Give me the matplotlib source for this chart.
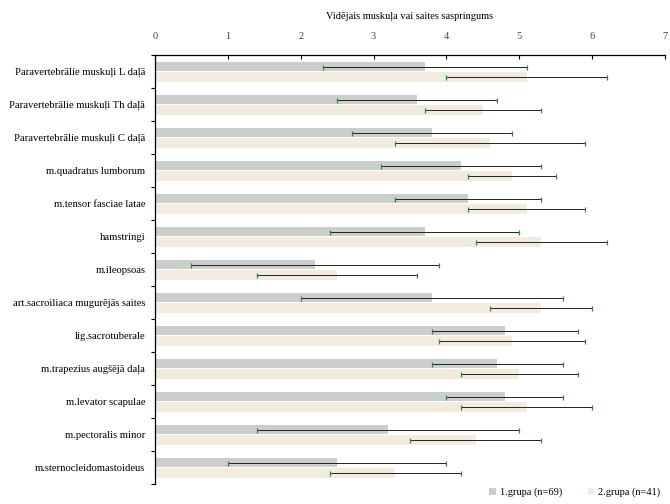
import matplotlib
matplotlib.use('Agg')
import matplotlib.pyplot as plt
import numpy as np

plt.rcParams['font.family'] = ['Liberation Serif', 'DejaVu Serif']

# Kategorijas (no augšas uz leju)
categories = [
    'Paravertebrālie muskuļi L daļā',
    'Paravertebrālie muskuļi Th daļā',
    'Paravertebrālie muskuļi C daļā',
    'm.quadratus lumborum',
    'm.tensor fasciae latae',
    'hamstringi',
    'm.ileopsoas',
    'art.sacroiliaca mugurējās saites',
    'lig.sacrotuberale',
    'm.trapezius augšējā daļa',
    'm.levator scapulae',
    'm.pectoralis minor',
    'm.sternocleidomastoideus',
]

# 1.grupa (n=69): vidējais un standartnovirze
group1_mean = [3.7, 3.6, 3.8, 4.2, 4.3, 3.7, 2.2, 3.8, 4.8, 4.7, 4.8, 3.2, 2.5]
group1_sd = [1.4, 1.1, 1.1, 1.1, 1.0, 1.3, 1.7, 1.8, 1.0, 0.9, 0.8, 1.8, 1.5]

# 2.grupa (n=41)
group2_mean = [5.1, 4.5, 4.6, 4.9, 5.1, 5.3, 2.5, 5.3, 4.9, 5.0, 5.1, 4.4, 3.3]
group2_sd = [1.1, 0.8, 1.3, 0.6, 0.8, 0.9, 1.1, 0.7, 1.0, 0.8, 0.9, 0.9, 0.9]

labels = ['1.grupa (n=69)', '2.grupa (n=41)']
x_ticks = np.arange(0, 8, 1)

fig = plt.figure(figsize=(6.7, 5.04), dpi=100)
ax = fig.add_axes([0.2313, 0.0397, 0.7612, 0.8512])

y = np.arange(len(categories))
h = 0.29

ax.barh(y - 0.15, group1_mean, height=h, color='#cbcecc', label=labels[0])
ax.barh(y + 0.16, group2_mean, height=h, color='#f2ebe0', label=labels[1])

# Kļūdu joslas
for offs, mean, sd in [(-0.15, group1_mean, group1_sd), (0.16, group2_mean, group2_sd)]:
    eb = ax.errorbar(mean, y + offs, xerr=sd, fmt='none', ecolor='#222222',
                     elinewidth=0.7, capsize=1.8, capthick=0.9)
    for cap in eb[1]:
        cap.set_markeredgecolor('#2f8a2f')

ax.set_xlim(0, 7)
ax.set_ylim(len(categories) - 0.5, -0.5)

# X ass augšā
ax.xaxis.tick_top()
ax.xaxis.set_label_position('top')
ax.set_xticks(x_ticks)
ax.set_xticklabels([str(v) for v in x_ticks], fontsize=7.5, color='#444444')
ax.tick_params(axis='x', direction='in', length=3, width=0.8, pad=10)
ax.set_xlabel('Vidējais muskuļa vai saites saspringums', fontsize=7.5, labelpad=10)

# Y ass
ax.set_yticks(y)
ax.set_yticklabels(categories, fontsize=7.7)
ax.tick_params(axis='y', which='major', length=0, pad=7)
ax.set_yticks(np.arange(len(categories) + 1) - 0.5, minor=True)
ax.tick_params(axis='y', which='minor', direction='out', length=3, width=0.8)

ax.spines['right'].set_visible(False)
ax.spines['bottom'].set_visible(False)
ax.spines['top'].set_linewidth(0.9)
ax.spines['left'].set_linewidth(0.9)

fig.legend(loc='lower right', bbox_to_anchor=(1.0, -0.005), ncol=2, frameon=False,
           fontsize=7.5, handlelength=0.6, handleheight=0.6, columnspacing=2.5,
           handletextpad=0.4)

plt.savefig('out.png', dpi=100)
